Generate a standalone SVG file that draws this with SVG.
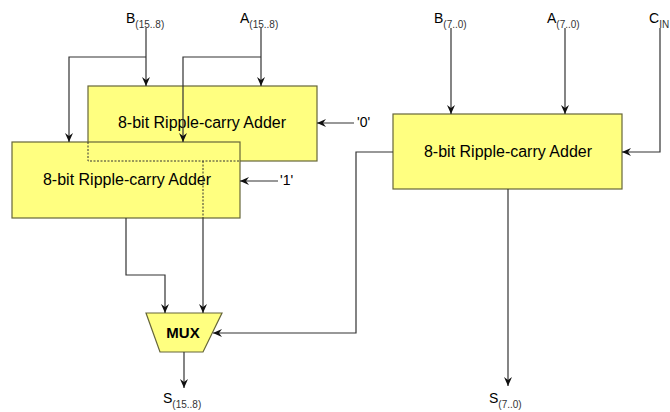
<svg xmlns="http://www.w3.org/2000/svg" width="670" height="412" viewBox="0 0 670 412">
<defs>
<style>
.box{fill:#ffff80;stroke:#66663a;stroke-width:1.2}
.t{font-family:"Liberation Sans",Arial,sans-serif;font-size:16px;fill:#000}
.lab{font-family:"Liberation Sans",Arial,sans-serif;font-size:14px;fill:#000}
.sub{font-family:"Liberation Sans",Arial,sans-serif;font-size:10px;fill:#333}
.w{fill:none;stroke:#333;stroke-width:1.2}
.d{fill:none;stroke:#333;stroke-width:1;stroke-dasharray:2,1.5}
</style>
<marker id="ar" markerWidth="10" markerHeight="10" refX="9" refY="4" orient="auto" markerUnits="userSpaceOnUse">
<path d="M0,0 L9,4 L0,8 L3,4 Z" fill="#111"/>
</marker>
</defs>
<rect width="670" height="412" fill="#fff"/>
<g id="adder-back">
<rect class="box" x="88" y="86" width="229" height="75"/>
<text class="t" x="202" y="128" text-anchor="middle">8-bit Ripple-carry Adder</text>
</g>
<g id="adder-front">
<rect class="box" x="12" y="142" width="228" height="76"/>
<text class="t" x="127" y="185" text-anchor="middle">8-bit Ripple-carry Adder</text>
</g>
<g id="hidden-edges">
<path class="d" d="M88,142 V161 H240"/>
<path class="d" d="M203,161 V218"/>
</g>
<g id="adder-low">
<rect class="box" x="393" y="114" width="229" height="75"/>
<text class="t" x="508" y="157" text-anchor="middle">8-bit Ripple-carry Adder</text>
</g>
<g id="mux">
<polygon class="box" points="146,313 222,313 203,352 160,352"/>
<text x="183" y="338" text-anchor="middle" style="font-family:'Liberation Sans',Arial,sans-serif;font-size:15px;font-weight:bold">MUX</text>
</g>
<g id="labels">
<text class="lab" x="126" y="23">B<tspan class="sub" dy="5">(15..8)</tspan></text>
<text class="lab" x="240" y="23">A<tspan class="sub" dy="5">(15..8)</tspan></text>
<text class="lab" x="434" y="23">B<tspan class="sub" dy="5">(7..0)</tspan></text>
<text class="lab" x="547" y="23">A<tspan class="sub" dy="5">(7..0)</tspan></text>
<text class="lab" x="649" y="23">C<tspan class="sub" dy="5">IN</tspan></text>
<text class="lab" x="357" y="127">'0'</text>
<text class="lab" x="280" y="185">'1'</text>
<text class="lab" x="163" y="403">S<tspan class="sub" dy="5">(15..8)</tspan></text>
<text class="lab" x="489" y="403">S<tspan class="sub" dy="5">(7..0)</tspan></text>
</g>
<g id="connectors">
<path class="w" d="M146,28 V86" marker-end="url(#ar)"/>
<path class="w" d="M146,57 H69 V142" marker-end="url(#ar)"/>
<path class="w" d="M261,28 V86" marker-end="url(#ar)"/>
<path class="w" d="M261,57 H183 V142" marker-end="url(#ar)"/>
<path class="w" d="M354,123 H317" marker-end="url(#ar)"/>
<path class="w" d="M278,181 H240" marker-end="url(#ar)"/>
<path class="w" d="M451,28 V114" marker-end="url(#ar)"/>
<path class="w" d="M565,28 V114" marker-end="url(#ar)"/>
<path class="w" d="M660,28 V152 H622" marker-end="url(#ar)"/>
<path class="w" d="M126,218 V275 H165 V313" marker-end="url(#ar)"/>
<path class="w" d="M203,218 V313" marker-end="url(#ar)"/>
<path class="w" d="M393,152 H356 V333 H213" marker-end="url(#ar)"/>
<path class="w" d="M184,352 V388" marker-end="url(#ar)"/>
<path class="w" d="M508,189 V386" marker-end="url(#ar)"/>
</g>
</svg>
